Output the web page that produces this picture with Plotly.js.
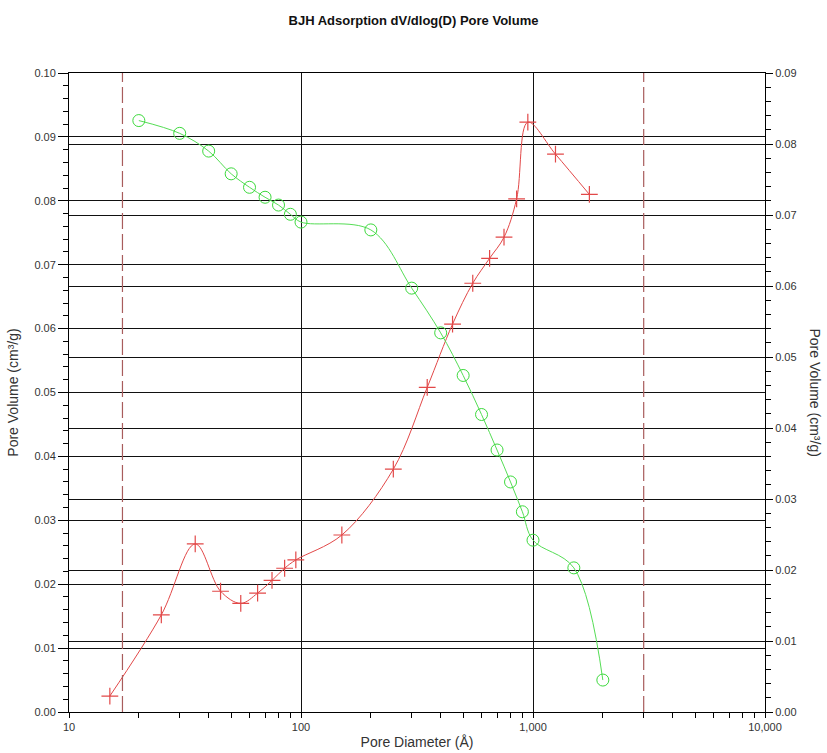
<!DOCTYPE html>
<html>
<head>
<meta charset="utf-8">
<script src="https://cdn.plot.ly/plotly-3.0.1.min.js"></script>
<style>
  html, body { margin: 0; padding: 0; background: #fff; }
  #chart { width: 827px; height: 753px; }
</style>
</head>
<body>
<div id="chart"></div>
<script>
// BJH adsorption, dV/dlog(D) pore volume (left axis)
const dvDiameter = [15, 25, 35, 45, 55, 65, 75, 85, 95, 150, 250, 350, 450, 550, 650, 750, 850, 950, 1250, 1750];
const dvVolume = [0.0025, 0.0152, 0.0263, 0.0189, 0.0170, 0.0186, 0.0206, 0.0225, 0.0238, 0.0277,
                  0.0380, 0.0508, 0.0607, 0.0671, 0.0710, 0.0743, 0.0803, 0.0923, 0.0873, 0.0810];

// Second pore volume series (right axis)
const cumDiameter = [20, 30, 40, 50, 60, 70, 80, 90, 100, 200, 300, 400, 500, 600, 700, 800, 900, 1000, 1500, 2000];
const cumVolume = [0.0833, 0.0815, 0.0790, 0.0758, 0.0739, 0.0725, 0.0714, 0.0701, 0.0690, 0.0679,
                   0.0597, 0.0534, 0.0474, 0.0419, 0.0369, 0.0324, 0.0282, 0.0242, 0.0203, 0.0045];

// Dashed limits of the measured range
const rangeLimits = [17, 3000];

// Axis tick labels
const xTickVals = [10, 100, 1000, 10000];
const xTickText = ['10', '100', '1,000', '10,000'];

const FONT = 'Liberation Sans, Arial, sans-serif';
const INK = '#333333';

const traces = [
  {
    x: dvDiameter, y: dvVolume, yaxis: 'y', type: 'scatter', mode: 'lines+markers',
    line: { color: '#e24848', width: 1, shape: 'spline', smoothing: 1 },
    marker: { symbol: 'cross-thin-open', size: 12, line: { color: '#e01c1c', width: 1.2 } },
    hoverinfo: 'skip'
  },
  {
    x: cumDiameter, y: cumVolume, yaxis: 'y2', type: 'scatter', mode: 'lines+markers',
    line: { color: '#55dd55', width: 1, shape: 'spline', smoothing: 1 },
    marker: { symbol: 'circle-open', size: 12, color: '#3cd93c', line: { color: '#3cd93c', width: 1 } },
    hoverinfo: 'skip'
  }
];

const shapes = rangeLimits.map(v => ({
  type: 'line', xref: 'x', yref: 'paper', x0: v, x1: v, y0: 0, y1: 1,
  line: { color: '#a85c5c', width: 1.2, dash: '16px,5px' }
}));

const layout = {
  width: 827, height: 753,
  margin: { l: 69, r: 62, t: 73, b: 41 },
  paper_bgcolor: '#ffffff', plot_bgcolor: '#ffffff',
  font: { family: FONT, color: INK, size: 11 },
  showlegend: false,
  title: {
    text: '<b>BJH Adsorption dV/dlog(D) Pore Volume</b>',
    font: { family: FONT, size: 13, color: '#111' },
    xref: 'container', x: 0.5, xanchor: 'center',
    yref: 'container', y: 1 - 20 / 753, yanchor: 'middle'
  },
  xaxis: {
    type: 'log', range: [1, 4],
    tickvals: xTickVals, ticktext: xTickText,
    ticks: 'outside', ticklen: 5, tickcolor: '#000', tickwidth: 1,
    minor: { ticks: 'outside', ticklen: 5, tickcolor: '#000', dtick: 'D1', showgrid: false },
    showgrid: true, gridcolor: '#111', gridwidth: 1,
    showline: true, linecolor: '#000', linewidth: 1, mirror: true,
    zeroline: false,
    tickfont: { family: FONT, size: 11, color: INK },
    title: { text: 'Pore Diameter (Å)', font: { family: FONT, size: 14, color: INK }, standoff: 4 }
  },
  yaxis: {
    range: [0, 0.1], dtick: 0.01, tickformat: '.2f',
    ticks: 'outside', ticklen: 10, tickcolor: '#000',
    minor: { ticks: 'outside', ticklen: 5, tickcolor: '#000', dtick: 0.002, showgrid: false },
    showgrid: true, gridcolor: '#111', gridwidth: 1,
    showline: true, linecolor: '#000', linewidth: 1,
    zeroline: false,
    tickfont: { family: FONT, size: 11, color: INK },
    title: { text: 'Pore Volume (cm³/g)', font: { family: FONT, size: 14, color: INK }, standoff: 12 }
  },
  yaxis2: {
    overlaying: 'y', side: 'right',
    range: [0, 0.09], dtick: 0.01, tickformat: '.2f',
    ticks: 'outside', ticklen: 7, tickcolor: '#000',
    minor: { ticks: 'outside', ticklen: 5, tickcolor: '#000', dtick: 0.002, showgrid: false },
    showgrid: true, gridcolor: '#111', gridwidth: 1,
    showline: true, linecolor: '#000', linewidth: 1,
    zeroline: false,
    tickfont: { family: FONT, size: 11, color: INK }
  },
  shapes: shapes,
  annotations: [{
    text: 'Pore Volume (cm³/g)', textangle: 90,
    xref: 'paper', yref: 'paper', x: 1, y: 0.5,
    xanchor: 'center', yanchor: 'middle', xshift: 50,
    showarrow: false,
    font: { family: FONT, size: 14, color: INK }
  }]
};

Plotly.newPlot('chart', traces, layout, { staticPlot: true, displayModeBar: false });
</script>
</body>
</html>
